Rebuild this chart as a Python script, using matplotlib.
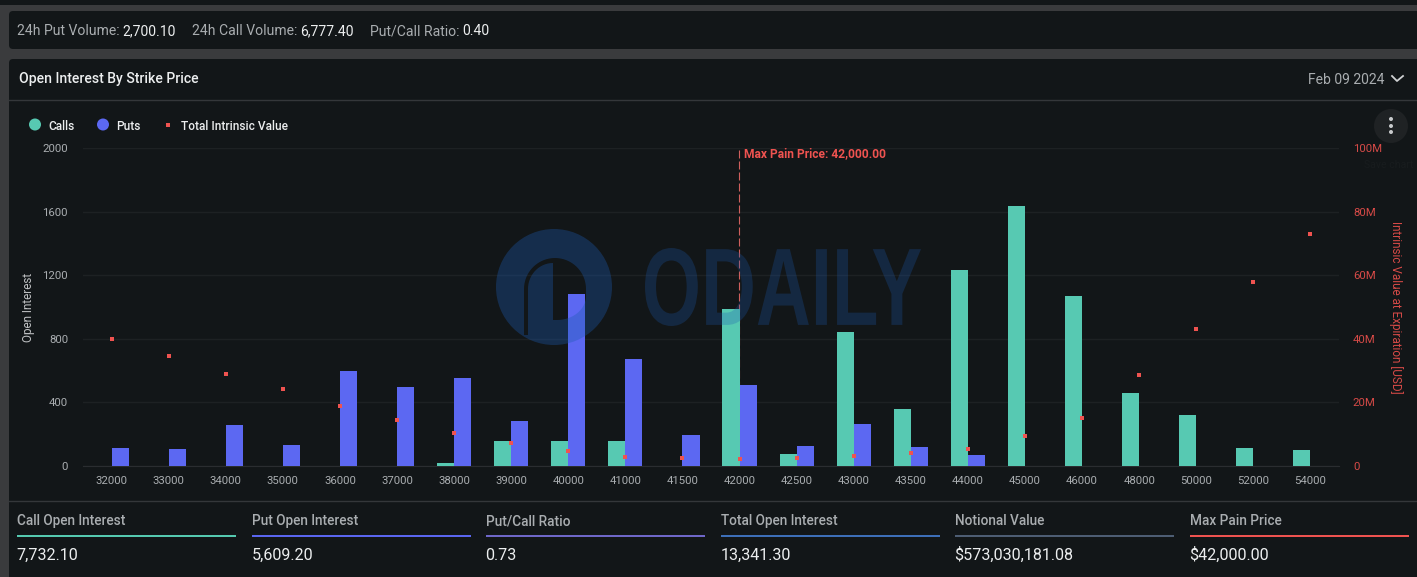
import matplotlib
matplotlib.use("Agg")
import numpy as np
import matplotlib.pyplot as plt
from matplotlib.patches import Circle, FancyBboxPatch, Rectangle, PathPatch
from matplotlib.path import Path
from matplotlib.textpath import TextPath
from matplotlib.font_manager import FontProperties
from matplotlib.transforms import Affine2D
from matplotlib.ticker import FuncFormatter

plt.rcParams['font.family'] = ['Roboto', 'DejaVu Sans']

strikes = [32000, 33000, 34000, 35000, 36000, 37000, 38000, 39000, 40000, 41000, 41500,
           42000, 42500, 43000, 43500, 44000, 45000, 46000, 48000, 50000, 52000, 54000]
calls = [0, 0, 0, 0, 0, 0, 15, 155, 155, 155, 0,
         985, 75, 840, 355, 1235, 1640, 1070, 460, 320, 110, 100]
puts = [110, 105, 255, 130, 595, 495, 550, 280, 1085, 670, 195,
        505, 125, 260, 115, 65, 0, 0, 0, 0, 0, 0]
intrinsic_m = [39.8, 34.4, 29.0, 24.0, 18.8, 14.4, 10.2, 7.0, 4.5, 2.7, 2.3,
               1.9, 2.5, 3.0, 3.9, 5.3, 9.2, 15.0, 28.5, 43.0, 58.0, 73.0]
max_pain_strike = 42000
summary_labels = ["Call Open Interest", "Put Open Interest", "Put/Call Ratio",
                  "Total Open Interest", "Notional Value", "Max Pain Price"]
summary_values = ["7,732.10", "5,609.20", "0.73", "13,341.30", "$573,030,181.08", "$42,000.00"]
summary_colors = ["#55c9b0", "#5a66f0", "#6e67c8", "#3d6fb8", "#4d5d73", "#ef5350"]

BG = "#3a3b3d"; PANEL = "#121618"; LINE = "#34373a"; GRID = "#1d2123"
GREEN = "#57c9b2"; BLUE = "#5c68f2"; RED = "#ef5350"
TXT = "#a9adb0"; WHITE = "#eceeef"; AXRED = "#d64a47"

W, H = 1417, 577
fig = plt.figure(figsize=(W / 100, H / 100), dpi=100, facecolor=BG)

# page chrome, drawn in pixel coordinates
bg = fig.add_axes([0, 0, 1, 1], zorder=0)
bg.set_xlim(0, W); bg.set_ylim(H, 0); bg.axis("off")
bg.add_patch(Rectangle((0, 0), W, 5, color=PANEL, lw=0))
for x, y, w, h in [(9, 11, 1425, 38), (9, 59, 1425, 540)]:
    bg.add_patch(FancyBboxPatch((x + 4, y + 4), w - 8, h - 8, boxstyle="round,pad=4",
                                fc=PANEL, ec="none"))
bg.plot([9, W], [100, 100], color=LINE, lw=1)
bg.plot([9, W], [501, 501], color=LINE, lw=1)

def seg(x, y, parts):
    for s, c in parts:
        t = bg.text(x, y, s, color=c, fontsize=10.1, va="center", ha="left")
        x += t.get_window_extent(fig.canvas.get_renderer()).width + 2.6

seg(17, 31, [("24h Put Volume:", TXT), ("2,700.10", WHITE)])
seg(192, 31, [("24h Call Volume:", TXT), ("6,777.40", WHITE)])
seg(370, 31, [("Put/Call Ratio:", TXT), ("0.40", WHITE)])
bg.text(19, 79, "Open Interest By Strike Price", color=WHITE, fontsize=10.1, fontweight="medium", va="center")
bg.text(1384, 80, "Feb 09 2024", color=TXT, fontsize=10, va="center", ha="right")
bg.plot([1392, 1397, 1403], [76, 81, 76], color="#d0d2d4", lw=1.3)

# legend
bg.add_patch(Circle((35, 124.5), 6, color=GREEN, lw=0))
bg.text(48, 126, "Calls", color=WHITE, fontsize=8.6, fontweight="medium", va="center")
bg.add_patch(Circle((103, 124.5), 6, color=BLUE, lw=0))
bg.text(116, 126, "Puts", color=WHITE, fontsize=8.6, fontweight="medium", va="center")
bg.add_patch(Rectangle((166, 122.5), 4, 4, color=RED, lw=0))
bg.text(181, 126, "Total Intrinsic Value", color=WHITE, fontsize=8.6, fontweight="medium", va="center")

# menu button
bg.add_patch(Circle((1391, 126), 17, color="#1f2224", lw=0))
for yy in (119, 126, 132):
    bg.add_patch(Circle((1391, yy), 2, color="#c8cacc", lw=0))
bg.text(1364, 165, "Save chart", color="#181c1e", fontsize=7.6, va="center", ha="left")

# summary row
xs = [17, 252, 486, 721, 955, 1190]
for x, lab, val, col in zip(xs, summary_labels, summary_values, summary_colors):
    bg.text(x, 521, lab, color=TXT, fontsize=9.8, fontweight="medium", va="center")
    bg.add_patch(Rectangle((x, 535), 219, 2, color=col, lw=0))
    bg.text(x - 0.5, 555, val, color=WHITE, fontsize=11.6, va="center")

# chart
L, R, T, B = 83, 1339, 148.5, 465.5
ax = fig.add_axes([L / W, 1 - B / H, (R - L) / W, (B - T) / H], zorder=1)
ax.patch.set_alpha(0)
pos = list(range(len(strikes)))
bw = 0.3
ax.bar([p - bw / 2 for p in pos], calls, width=bw, color=GREEN, zorder=3)
ax.bar([p + bw / 2 for p in pos], puts, width=bw, color=BLUE, zorder=3)
ax.set_xlim(-0.5, len(strikes) - 0.5)
ax.set_ylim(0, 2000)
ax.set_yticks([0, 400, 800, 1200, 1600, 2000])
ax.set_xticks(pos, [str(s) for s in strikes])
ax.grid(axis="y", color=GRID, lw=1, zorder=0)
ax.set_axisbelow(True)
for s in ("top", "left", "right"):
    ax.spines[s].set_visible(False)
ax.spines["bottom"].set_color("#2a2d30")
ax.tick_params(axis="both", length=0, labelcolor=TXT, labelsize=8.2)
ax.tick_params(axis="x", pad=7.4)
ax.tick_params(axis="y", pad=10.8)
ax.set_ylabel("Open Interest", color="#c0c2c4", fontsize=8.5, va="center")
ax.yaxis.set_label_coords((29 - L) / (R - L), 0.5)

ax2 = ax.twinx()
ax2.patch.set_alpha(0)
ax2.set_ylim(0, 100)
ax2.set_yticks([0, 20, 40, 60, 80, 100])
ax2.yaxis.set_major_formatter(FuncFormatter(lambda v, _: "0" if v == 0 else f"{v:.0f}M"))
for s in ax2.spines.values():
    s.set_visible(False)
ax2.tick_params(axis="y", length=0, labelcolor=AXRED, labelsize=8.2, pad=10)
ax2.set_ylabel("Intrinsic Value at Expiration [USD]", color=AXRED, fontsize=8.5, rotation=270, va="center")
ax2.yaxis.set_label_coords((1396 - L) / (R - L), 0.5)
ax2.scatter(pos, intrinsic_m, marker="s", s=12, color=RED, linewidths=0, zorder=5)

mp = strikes.index(max_pain_strike)
ax.axvline(mp - 0.01, color="#cf5f5d", lw=0.8, ls=(0, (7.2, 2.7)), zorder=2)
ax.text(mp + 0.08, 1965, "Max Pain Price: 42,000.00", color=RED, fontsize=8.65,
        fontweight="bold", va="center", ha="left", zorder=6)

# watermark over the plot
wm = fig.add_axes([0, 0, 1, 1], zorder=3)
wm.set_xlim(0, W); wm.set_ylim(H, 0); wm.axis("off"); wm.patch.set_alpha(0)
WM = "#1c5ab0"

def arc(cx, cy, rx, ry, a0, a1, n=30):
    t = np.radians(np.linspace(a0, a1, n))
    return np.column_stack([cx + rx * np.cos(t), cy + ry * np.sin(t)])

disc = Path.circle((554, 287), 58)
hole = np.vstack([
    [[553, 320], [553, 264]],
    arc(553, 289, 25, 26, -90, -180, 16),
    [[528, 335], [524, 335]],
    arc(555, 289, 31, 31, 180, 360, 40),
    arc(557, 296, 29, 24, 0, 90, 16),
    [[553, 320]],
])
logo = Path.make_compound_path(disc, Path(np.vstack([hole[::-1], hole[-1]]),
                                          [Path.MOVETO] + [Path.LINETO] * len(hole)))
wm.add_patch(PathPatch(logo, fc=WM, ec="none", alpha=0.35))

tp = TextPath((0, 0), "ODAILY", size=100, prop=FontProperties(family="Liberation Sans", weight="bold"))
bb = tp.get_extents()
tf = (Affine2D().translate(-bb.x0, -bb.y0).scale(276 / bb.width, -78 / bb.height)
      .translate(645, 326))
wm.add_patch(PathPatch(tf.transform_path(tp), fc=WM, ec="none", alpha=0.27))

fig.savefig("out.png", dpi=100, facecolor=BG)
